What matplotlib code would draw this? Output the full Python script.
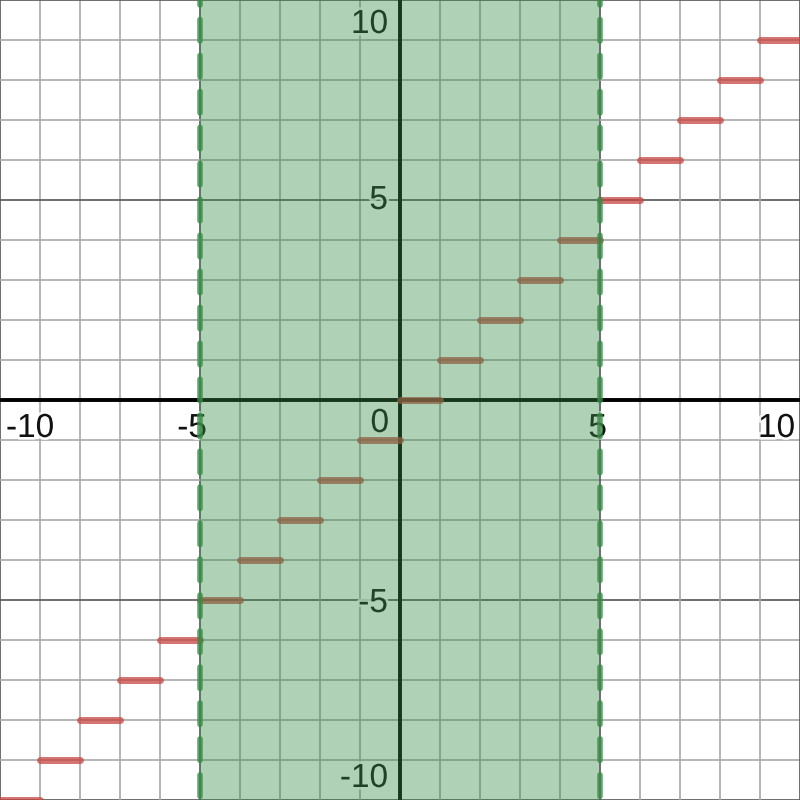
import matplotlib.pyplot as plt
import matplotlib.patheffects as pe

plt.rcParams['font.family'] = ['Liberation Sans', 'DejaVu Sans']
plt.rcParams['lines.scale_dashes'] = False

# step segments: y = floor(x) on [k, k+1)
step_start = [-10, -9, -8, -7, -6, -5, -4, -3, -2, -1, 0, 1, 2, 3, 4, 5, 6, 7, 8, 9]
step_end = [-9, -8, -7, -6, -5, -4, -3, -2, -1, 0, 1, 2, 3, 4, 5, 6, 7, 8, 9, 10]
step_value = [-10, -9, -8, -7, -6, -5, -4, -3, -2, -1, 0, 1, 2, 3, 4, 5, 6, 7, 8, 9]

# shaded band -5 < x < 5
band_left = -5
band_right = 5

grid_minor = list(range(-10, 11))
grid_major = [-10, -5, 0, 5, 10]

x_labels = ['-10', '-5', '0', '5', '10']
x_label_pos = [-9.85, -4.825, -0.275, 5.175, 9.875]
x_label_base = [-0.925, -0.925, -0.8, -0.925, -0.925]
y_labels = ['10', '5', '-5', '-10']
y_label_base = [9.175, 4.775, -5.3, -9.675]

red = '#c74440'
green = '#388c46'

fig = plt.figure(figsize=(8, 8), dpi=100)
ax = fig.add_axes([0, 0, 1, 1])
ax.set_xlim(-10, 10)
ax.set_ylim(-10, 10)
ax.axis('off')

# grid
for g in grid_minor:
    c = '#555555' if g in grid_major else '#a8a8a8'
    ax.axvline(g, color=c, lw=1.2, zorder=1)
    ax.axhline(g, color=c, lw=1.2, zorder=1)

# axes
ax.axhline(0, color='black', lw=2.8, zorder=2)
ax.axvline(0, color='black', lw=2.8, zorder=2)

halo = [pe.withStroke(linewidth=4, foreground='white', alpha=0.8)]
for lab, xp, yb in zip(x_labels, x_label_pos, x_label_base):
    ha = 'left' if lab == '-10' else 'right'
    ax.text(xp, yb, lab, ha=ha, va='baseline', fontsize=24,
            color='#111111', zorder=3, path_effects=halo)
for lab, yb in zip(y_labels, y_label_base):
    ax.text(-0.3, yb, lab, ha='right', va='baseline', fontsize=24,
            color='#111111', zorder=3, path_effects=halo)

# step function
for x0, x1, v in zip(step_start, step_end, step_value):
    ax.plot([x0, x1], [v, v], color=red, lw=5, alpha=0.75,
            solid_capstyle='round', zorder=4)

# shaded region
ax.axvspan(band_left, band_right, color=green, alpha=0.4, lw=0, zorder=5)

# dashed boundaries
for bx in [band_left, band_right]:
    ax.plot([bx, bx], [10, -10], color=green, lw=4.0, alpha=0.8,
            linestyle=(11.9, (15.5, 10.4)), dash_capstyle='round', zorder=6)

fig.savefig('out.png', dpi=100)
